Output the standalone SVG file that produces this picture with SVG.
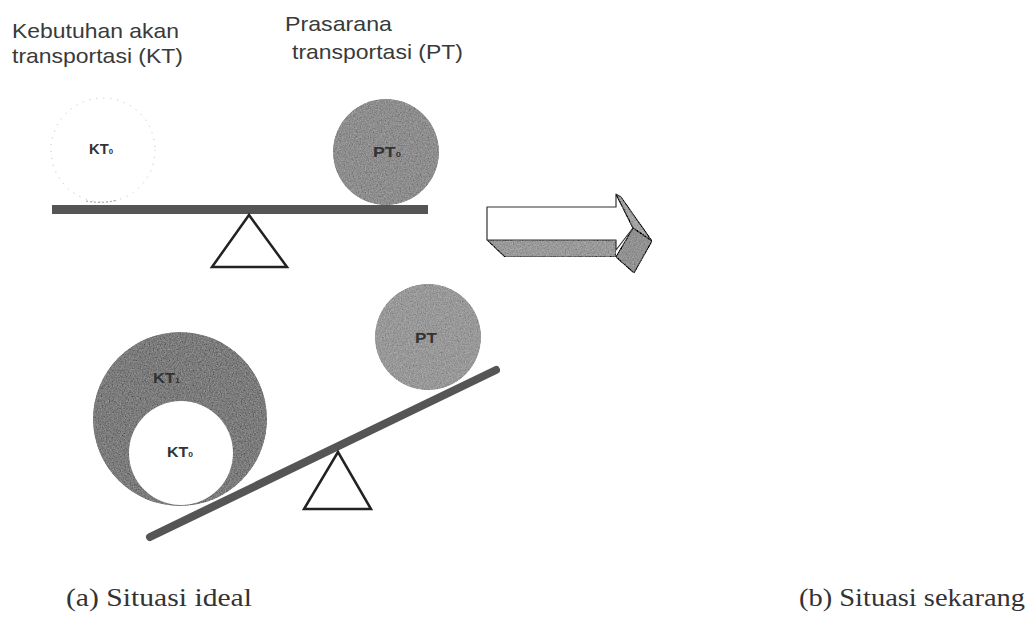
<svg xmlns="http://www.w3.org/2000/svg" width="1027" height="627" viewBox="0 0 1027 627">
<style>
.title{font-family:"Liberation Sans",Arial,sans-serif;font-size:21px;fill:#3a3a3a}
.lbl{font-family:"Liberation Sans",Arial,sans-serif;font-size:15px;font-weight:bold;fill:#333}
.sub{font-size:8px}
.cap{font-family:"Liberation Serif","Times New Roman",serif;font-size:26px;fill:#333}
.beam{fill:#555}
.tri{fill:none;stroke:#222;stroke-width:2.5;stroke-linejoin:miter}
.gray{filter:url(#grain)}
.face{stroke:#333;stroke-width:1.2;stroke-linejoin:round}
</style>
<defs>
<filter id="grain" x="0" y="0" width="1" height="1">
<feTurbulence type="fractalNoise" baseFrequency="0.75" numOctaves="2" seed="5" result="t"/>
<feColorMatrix in="t" type="matrix" values="0.33 0.33 0.33 0 0 0.33 0.33 0.33 0 0 0.33 0.33 0.33 0 0 0 0 0 0 1" result="g"/>
<feComposite in="SourceGraphic" in2="g" operator="arithmetic" k1="0" k2="1" k3="0.6" k4="-0.3" result="m"/>
<feComposite in="m" in2="SourceGraphic" operator="in"/>
</filter>
</defs>
<rect width="1027" height="627" fill="#fff"/>

<g id="title-kt">
<text class="title" x="12" y="38" textLength="167" lengthAdjust="spacingAndGlyphs">Kebutuhan akan</text>
<text class="title" x="12" y="63" textLength="171" lengthAdjust="spacingAndGlyphs">transportasi (KT)</text>
</g>
<g id="title-pt">
<text class="title" x="285" y="31" textLength="107" lengthAdjust="spacingAndGlyphs">Prasarana</text>
<text class="title" x="292" y="59" textLength="171" lengthAdjust="spacingAndGlyphs">transportasi (PT)</text>
</g>

<g id="seesaw-top">
<rect class="beam" x="52" y="205" width="376" height="9"/>
<polygon class="tri" points="249,215 212,267 287,267"/>
</g>
<g id="kt0-top">
<circle cx="103" cy="150" r="52" fill="none" stroke="#bbb" stroke-width="1" stroke-dasharray="1 6"/>
<path d="M86,201 Q102,204 118,200" fill="none" stroke="#999" stroke-width="1" stroke-dasharray="2 2"/>
<text class="lbl" x="89" y="154" textLength="24" lengthAdjust="spacingAndGlyphs">KT<tspan class="sub">0</tspan></text>
</g>
<g id="pt0-top">
<circle class="gray" cx="386" cy="152" r="53" fill="#8e8e8e"/>
<text class="lbl" x="373" y="157" textLength="28" lengthAdjust="spacingAndGlyphs">PT<tspan class="sub">0</tspan></text>
</g>

<g id="arrow">
<polygon class="face" fill="#fff" points="487,207 616,207 616,194 633,228 616,250 616,240 487,240"/>
<polygon class="face gray" fill="#9a9a9a" points="487,240 616,240 616,257 505,257"/>
<polygon class="face gray" fill="#a4a4a4" points="616,194 621,197 652,241 633,228"/>
<polygon class="face gray" fill="#929292" points="633,228 652,241 634,273 616,257"/>
</g>

<g id="seesaw-bottom">
<line x1="150" y1="537" x2="496" y2="370" stroke="#555" stroke-width="8" stroke-linecap="round"/>
<polygon class="tri" points="338,452 304,509 371,509"/>
</g>
<g id="kt1">
<circle class="gray" cx="180" cy="419" r="87" fill="#7c7c7c"/>
<text class="lbl" x="153" y="383" textLength="27" lengthAdjust="spacingAndGlyphs">KT<tspan class="sub">1</tspan></text>
</g>
<g id="kt0-bottom">
<circle cx="181" cy="453" r="52" fill="#fff"/>
<text class="lbl" x="167" y="457" textLength="26" lengthAdjust="spacingAndGlyphs">KT<tspan class="sub">0</tspan></text>
</g>
<g id="pt-bottom">
<circle class="gray" cx="428" cy="337" r="53" fill="#999"/>
<text class="lbl" x="415" y="343" textLength="22" lengthAdjust="spacingAndGlyphs">PT</text>
</g>

<g id="captions">
<text class="cap" x="66" y="606" textLength="186" lengthAdjust="spacingAndGlyphs">(a)  Situasi ideal</text>
<text class="cap" x="799" y="606" textLength="226" lengthAdjust="spacingAndGlyphs">(b) Situasi sekarang</text>
</g>
</svg>
